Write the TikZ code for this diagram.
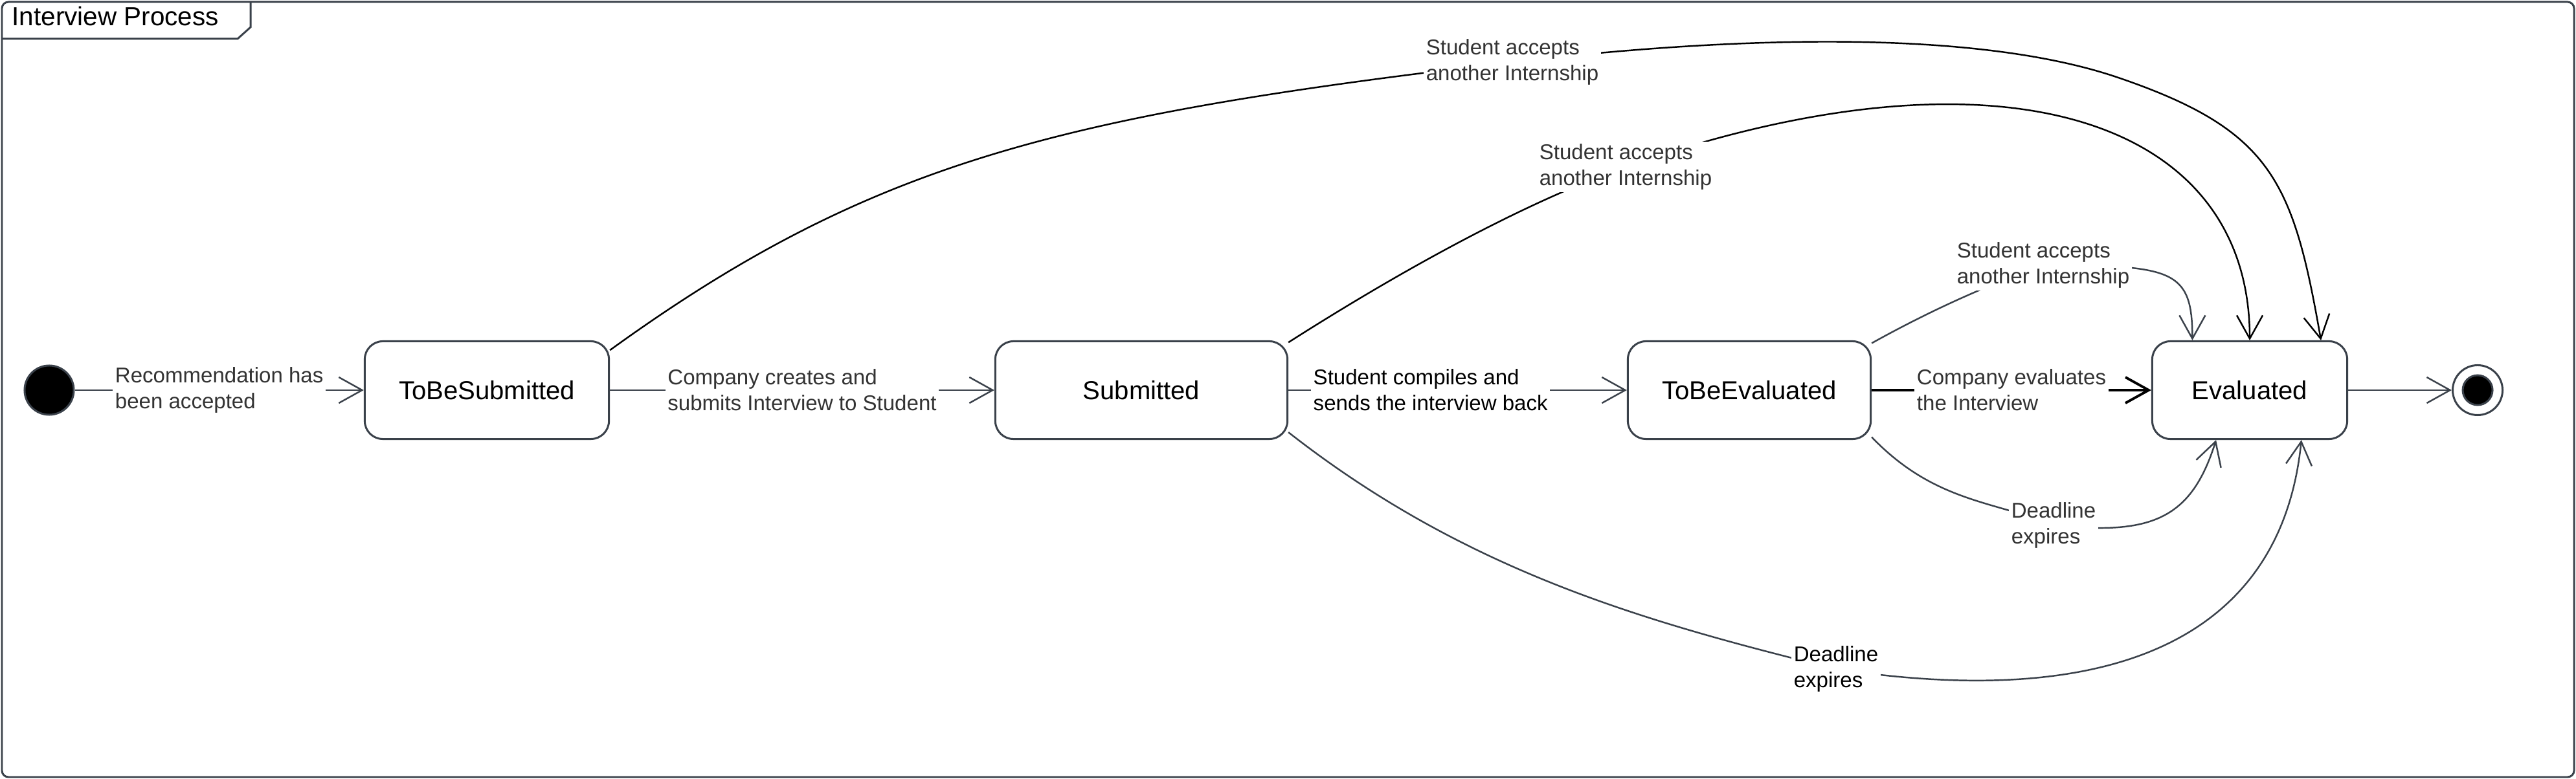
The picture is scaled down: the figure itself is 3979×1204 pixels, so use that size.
\documentclass[tikz,border=0pt]{standalone}
\usepackage{fontspec}
\setmainfont{Liberation Sans}
\definecolor{frameGray}{HTML}{3A414A}
\definecolor{textGray}{HTML}{333333}
\usetikzlibrary{arrows.meta, positioning}

\begin{document}
\begin{tikzpicture}[x=0.01cm, y=-0.01cm,
	state/.style={rectangle, rounded corners=0.28cm, draw=frameGray, line width=0.85pt, fill=white, minimum height=1.51cm, inner sep=0pt, font=\fontsize{11.4}{13.7}\selectfont},
	trans/.style={draw=frameGray, line width=0.7pt, -{Straight Barb[length=0.36cm, width=0.4cm]}},
	lbl/.style={fill=white, inner sep=1pt, align=left, text=textGray, font=\fontsize{9.4}{11.4}\selectfont}]
		\useasboundingbox (0,0) rectangle (3979,1204);
		% frame
		\draw[frameGray, line width=0.85pt, rounded corners=0.1cm] (3,3) rectangle (3976,1201);
		\draw[frameGray, line width=0.85pt] (3,60) -- (367,60) -- (387,42) -- (387,3);
		\node[anchor=base west, inner sep=0pt, font=\fontsize{11.5}{13.8}\selectfont] (title) at (18,40) {Interview Process};
		\foreach \x/\w/\nm/\txt in {
			752/3.77/tbs/ToBeSubmitted,
			1763/4.51/sub/Submitted,
			2702/3.75/tbe/ToBeEvaluated,
			3475/3.01/ev/Evaluated
		}{
			\node[state, minimum width=\w cm] (\nm) at (\x,603) {\txt};
		}
		\node[circle, fill=black, draw=frameGray, line width=0.85pt, minimum size=0.76cm, inner sep=0pt] (init) at (76,603) {};
		\node[circle, fill=white, draw=frameGray, line width=0.85pt, minimum size=0.77cm, inner sep=0pt] (fin) at (3827,603) {};
		\node[circle, fill=black, draw=frameGray, line width=0.85pt, minimum size=0.46cm, inner sep=0pt] (finDot) at (fin) {};
		% main line
		\draw[trans] (init) -- node[lbl] {Recommendation has\\been accepted} (tbs);
		\draw[trans] (tbs) -- node[lbl] {Company creates and\\submits Interview to Student} (sub);
		\draw[trans] (sub) -- node[lbl, pos=0.42, text=black] {Student compiles and\\sends the interview back} (tbe);
		\draw[trans, draw=black, line width=1.1pt] (tbe) -- node[lbl] {Company evaluates\\the Interview} (ev);
		\draw[trans] (ev) -- (fin);
		% other internship accepted
		\draw[trans, draw=black] (tbs.18) .. controls +(405,-293) and +(-695,82) .. (2336,96) node[lbl] {Student accepts\\another Internship}
			.. controls +(298,-35) and +(-237,-81) .. (3272,120)
			.. controls +(237,81) and +(-43,-246) .. (ev.35);
		\draw[trans, draw=black] (sub.18) .. controls +(152,-97) and +(-170,60) .. (2511,258) node[lbl] {Student accepts\\another Internship}
			.. controls +(566,-199) and +(0,-350) .. (ev.north);
		\draw[trans] (tbe.21) .. controls +(90,-50) and +(-90,32) .. (3156,410) node[lbl] {Student accepts\\another Internship}
			.. controls +(200,0) and +(0,-110) .. (ev.139);
		% deadline
		\draw[trans] (tbe.-21) .. controls +(97,101) and +(-92,-38) .. (3172,812) node[lbl] {Deadline\\expires}
			.. controls +(150,15) and +(-39,124) .. (ev.236);
		\draw[trans] (sub.-16) .. controls +(277,217) and +(-291,-72) .. (2836,1034) node[lbl, text=black] {Deadline\\expires}
			.. controls +(441,67) and +(-30,298) .. (ev.-44);
	\end{tikzpicture}
\end{document}
